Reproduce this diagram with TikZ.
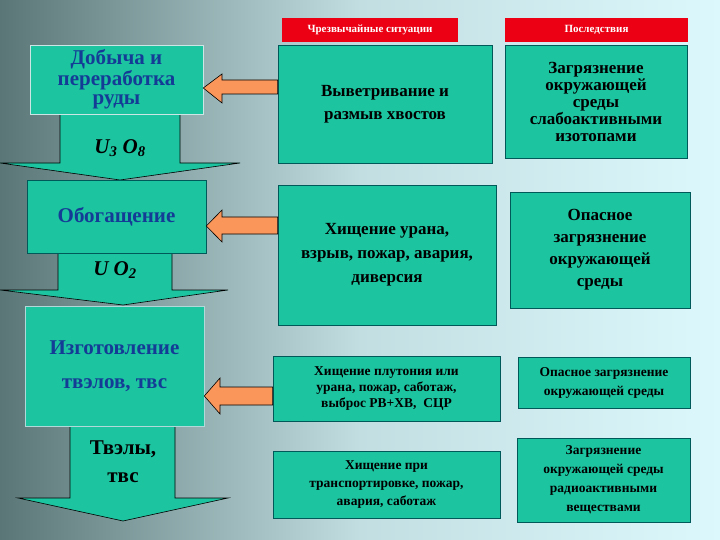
\documentclass[tikz,border=0pt]{standalone}
\usepackage{fontspec}
\setmainfont{Liberation Serif}
\begin{document}
\begin{tikzpicture}[x=1pt,y=-1pt,
  box/.style={draw=teal!70!black,fill=tealc,line width=0.6pt},
  lbox/.style={box,draw=white!80!teal},
  harr/.style={draw=black,fill=orangec,line width=0.6pt},
  varr/.style={draw=black,fill=tealc,line width=0.6pt},
  mtxt/.style={font=\bfseries,align=center,text=black},
  ltxt/.style={font=\bfseries,align=center,text=bluec},
  hdr/.style={fill=redc,draw=none}]
\definecolor{tealc}{RGB}{28,196,160}
\definecolor{orangec}{RGB}{250,150,90}
\definecolor{redc}{RGB}{235,0,20}
\definecolor{bluec}{RGB}{20,60,150}
\definecolor{bgdark}{RGB}{90,118,118}
\definecolor{bglight}{RGB}{220,248,252}
\useasboundingbox (0,0) rectangle (720,540);
\shade[shading=axis,shading angle=-60,left color=bgdark,right color=bglight,middle color=bglight!80!bgdark] (0,0) rectangle (720,540);
% left column vertical arrows
\draw[varr] (60,114)--(180,114)--(180,163)--(240,163)--(120,180)--(0,163)--(60,163)--cycle;
\draw[varr] (58,253)--(172,253)--(172,290)--(228,290)--(123,305)--(0,290)--(58,290)--cycle;
\draw[varr] (70,426)--(175,426)--(175,498)--(228,498)--(123,521)--(18,498)--(70,498)--cycle;
\node[font=\bfseries\itshape\fontsize{21}{22}\selectfont] (u3) at (120,148) {U\textsubscript{3} O\textsubscript{8}};
\node[font=\bfseries\itshape\fontsize{21}{22}\selectfont] (uo) at (115,270) {U O\textsubscript{2}};
\node[font=\bfseries\fontsize{21}{28}\selectfont,align=center] (tv) at (123,462) {Твэлы,\\твс};
% left boxes
\node[lbox,minimum width=173pt,minimum height=69pt,ltxt,font=\bfseries\fontsize{21}{19}\selectfont] (l1) at (116.5,79.5) {Добыча и\\переработка\\руды};
\node[box,minimum width=179pt,minimum height=73pt,ltxt,font=\bfseries\fontsize{21}{22}\selectfont] (l2) at (116.5,216.5) {Обогащение};
\node[box,minimum width=179pt,minimum height=120pt,ltxt,font=\bfseries\fontsize{21}{34}\selectfont,draw=white!70!teal] (l3) at (114.5,366) {Изготовление\\твэлов, твс};
% headers
\node[hdr,minimum width=176pt,minimum height=24pt,text=white,font=\bfseries\fontsize{11}{12}\selectfont] (h1) at (370,30) {Чрезвычайные ситуации};
\node[hdr,minimum width=183pt,minimum height=24pt,text=white,font=\bfseries\fontsize{11}{12}\selectfont] (h2) at (596.5,30) {Последствия};
% middle
\node[box,minimum width=214pt,minimum height=118pt,mtxt,font=\bfseries\fontsize{17}{23}\selectfont] (m1) at (385,104) {Выветривание и\\размыв хвостов};
\node[box,minimum width=218pt,minimum height=140pt,mtxt,font=\bfseries\fontsize{17}{24}\selectfont] (m2) at (387,255) {Хищение урана,\\взрыв, пожар, авария,\\диверсия};
\node[box,minimum width=227pt,minimum height=65pt,mtxt,font=\bfseries\fontsize{13.5}{16}\selectfont] (m3) at (386.5,388.5) {Хищение плутония или\\урана, пожар, саботаж,\\выброс РВ+ХВ,\ \ СЦР};
\node[box,minimum width=227pt,minimum height=67pt,mtxt,font=\bfseries\fontsize{13.5}{18}\selectfont] (m4) at (386.5,484.5) {Хищение при\\транспортировке, пожар,\\авария, саботаж};
% right
\node[box,minimum width=182pt,minimum height=113pt,mtxt,font=\bfseries\fontsize{17}{17}\selectfont] (r1) at (596,101.5) {Загрязнение\\окружающей\\среды\\слабоактивными\\изотопами};
\node[box,minimum width=180pt,minimum height=116pt,mtxt,font=\bfseries\fontsize{17}{22}\selectfont] (r2) at (600,250) {Опасное\\загрязнение\\окружающей\\среды};
\node[box,minimum width=172pt,minimum height=51pt,mtxt,font=\bfseries\fontsize{13.5}{19}\selectfont] (r3) at (604,382.5) {Опасное загрязнение\\окружающей среды};
\node[box,minimum width=173pt,minimum height=84pt,mtxt,font=\bfseries\fontsize{13.5}{19}\selectfont] (r4) at (603.5,480) {Загрязнение\\окружающей среды\\радиоактивными\\веществами};
% orange arrows
\draw[harr] (m1.west|-0,80)--(222,80)--(222,74)--(l1.east|-0,88)--(222,103)--(222,94)--(m1.west|-0,94)--cycle;
\draw[harr] (m2.west|-0,217)--(222,217)--(222,210)--(l2.east|-0,226)--(222,242)--(222,234)--(m2.west|-0,234)--cycle;
\draw[harr] (m3.west|-0,387)--(220,387)--(220,378)--(l3.east|-0,396)--(220,414)--(220,405)--(m3.west|-0,405)--cycle;
\end{tikzpicture}
\end{document}
